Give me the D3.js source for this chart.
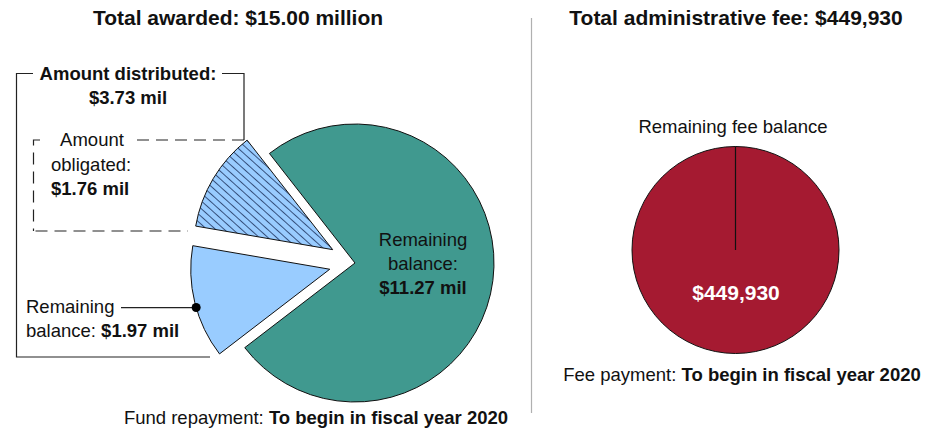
<!DOCTYPE html>
<html>
<head>
<meta charset="utf-8">
<script src="https://cdn.jsdelivr.net/npm/d3@7"></script>
<style>
  html, body { margin: 0; padding: 0; background: #fff; }
  svg text { font-family: "Liberation Sans", Arial, sans-serif; fill: #111; }
</style>
</head>
<body>
<svg id="chart" width="940" height="431"></svg>
<script>
// Awarded fund breakdown (millions of dollars)
const fundCategories = ["Remaining balance", "Distributed: remaining balance", "Distributed: amount obligated"];
const fundValues = [11.27, 1.97, 1.76];
const fundLabels = ["$11.27 mil", "$1.97 mil", "$1.76 mil"];
const distributedLabel = "$3.73 mil";
const fundTitle = "Total awarded: $15.00 million";

// Administrative fee breakdown (dollars)
const feeCategories = ["Remaining fee balance"];
const feeValues = [449930];
const feeLabels = ["$449,930"];
const feeTitle = "Total administrative fee: $449,930";

const svg = d3.select("#chart");
const deg = Math.PI / 180;
const bodySize = 18.5;

// Hatch pattern for the obligated slice
const defs = svg.append("defs");
const hs = 5.8;
const pat = defs.append("pattern")
  .attr("id", "hatch")
  .attr("patternUnits", "userSpaceOnUse")
  .attr("width", hs).attr("height", hs)
  .attr("patternTransform", "rotate(-48)");
pat.append("rect").attr("width", hs).attr("height", hs).attr("fill", "#99ccff");
pat.append("line").attr("x1", 0.5).attr("y1", 0).attr("x2", 0.5).attr("y2", hs)
  .attr("stroke", "#1c2f5a").attr("stroke-width", 0.8);

// ---- Left: exploded fund pie ----
const fundCx = 355, fundCy = 263, fundR = 139;
const fundPie = d3.pie().sort(null).value(d => d)
  .startAngle(-38 * deg).endAngle(322 * deg);
const fundArcs = fundPie(fundValues);
const fundArc = d3.arc().innerRadius(0).outerRadius(fundR);
const explode = [0, 26, 26];
const fills = ["#40998f", "#99ccff", "url(#hatch)"];

const fundG = svg.append("g").attr("transform", `translate(${fundCx},${fundCy})`);
fundG.selectAll("path").data(fundArcs).join("path")
  .attr("d", fundArc)
  .attr("fill", (d, i) => fills[i])
  .attr("stroke", "#111").attr("stroke-width", 1)
  .attr("transform", (d, i) => {
    const a = (d.startAngle + d.endAngle) / 2;
    return `translate(${explode[i] * Math.sin(a)},${-explode[i] * Math.cos(a)})`;
  });

// Titles
svg.append("text").attr("x", 238).attr("y", 25).attr("text-anchor", "middle")
  .attr("font-size", 21).attr("font-weight", "bold").text(fundTitle);
svg.append("text").attr("x", 736).attr("y", 25).attr("text-anchor", "middle")
  .attr("font-size", 21).attr("font-weight", "bold").text(feeTitle);

// Divider
svg.append("line").attr("x1", 531.5).attr("x2", 531.5).attr("y1", 18).attr("y2", 413)
  .attr("stroke", "#b0b0b0").attr("stroke-width", 1.2);

// Remaining balance label inside the teal slice
const tl = svg.append("text").attr("text-anchor", "middle").attr("font-size", bodySize);
tl.append("tspan").attr("x", 423).attr("y", 246).text("Remaining");
tl.append("tspan").attr("x", 423).attr("y", 270).text("balance:");
tl.append("tspan").attr("x", 423).attr("y", 294).attr("font-weight", "bold").text(fundLabels[0]);

// Solid bracket around the distributed slices
const ink = "#222";
svg.append("path")
  .attr("d", "M33,73.5 H16.5 V357 H210 M222,73.5 H244 V140")
  .attr("fill", "none").attr("stroke", ink).attr("stroke-width", 1.2);
svg.append("text").attr("x", 128).attr("y", 80).attr("text-anchor", "middle")
  .attr("font-size", bodySize).attr("font-weight", "bold").text("Amount distributed:");
svg.append("text").attr("x", 128).attr("y", 104).attr("text-anchor", "middle")
  .attr("font-size", bodySize).attr("font-weight", "bold").text(distributedLabel);

// Dashed bracket around the obligated slice
svg.append("path").attr("d", "M40,140 H33.5 V231")
  .attr("fill", "none").attr("stroke", ink).attr("stroke-width", 1.2)
  .attr("stroke-dasharray", "12,7");
svg.append("path").attr("d", "M33.5,231 H188")
  .attr("fill", "none").attr("stroke", ink).attr("stroke-width", 1.2)
  .attr("stroke-dasharray", "12,7").attr("stroke-dashoffset", -2);
svg.append("path").attr("d", "M244,140 H135")
  .attr("fill", "none").attr("stroke", ink).attr("stroke-width", 1.2)
  .attr("stroke-dasharray", "12,7");
svg.append("text").attr("x", 92).attr("y", 146).attr("text-anchor", "middle")
  .attr("font-size", bodySize).text("Amount");
svg.append("text").attr("x", 51).attr("y", 171).attr("font-size", bodySize).text("obligated:");
svg.append("text").attr("x", 51).attr("y", 195).attr("font-size", bodySize)
  .attr("font-weight", "bold").text(fundLabels[2]);

// Leader to the distributed remaining balance slice
const blue = fundArcs[1];
const blueMid = (blue.startAngle + blue.endAngle) / 2;
const bx = fundCx + explode[1] * Math.sin(blueMid);
const by = fundCy - explode[1] * Math.cos(blueMid);
const dotA = 254 * deg;
const dotX = bx + fundR * Math.sin(dotA), dotY = by - fundR * Math.cos(dotA);
svg.append("line").attr("x1", 121).attr("y1", dotY).attr("x2", dotX).attr("y2", dotY)
  .attr("stroke", ink).attr("stroke-width", 1.2);
svg.append("circle").attr("cx", dotX).attr("cy", dotY).attr("r", 4.5).attr("fill", "#000");
svg.append("text").attr("x", 26).attr("y", 313).attr("font-size", bodySize).text("Remaining");
const bl = svg.append("text").attr("x", 26).attr("y", 337).attr("font-size", bodySize);
bl.append("tspan").text("balance: ");
bl.append("tspan").attr("font-weight", "bold").text(fundLabels[1]);

// Footnote
const fn = svg.append("text").attr("x", 316).attr("y", 424).attr("text-anchor", "middle").attr("font-size", bodySize);
fn.append("tspan").text("Fund repayment: ");
fn.append("tspan").attr("font-weight", "bold").text("To begin in fiscal year 2020");

// ---- Right: administrative fee pie ----
const feeCx = 735.5, feeCy = 250, feeR = 103.5;
const feePie = d3.pie().sort(null).value(d => d);
const feeArc = d3.arc().innerRadius(0).outerRadius(feeR);
const feeG = svg.append("g").attr("transform", `translate(${feeCx},${feeCy})`);
const feeArcs = feePie(feeValues);
feeG.selectAll("path").data(feeArcs).join("path")
  .attr("d", feeArc)
  .attr("fill", "#a51a31").attr("stroke", "#111").attr("stroke-width", 1);
// slice boundary at the start angle
feeG.selectAll("line.edge").data(feeArcs).join("line").attr("class", "edge")
  .attr("x1", 0).attr("y1", 0)
  .attr("x2", d => feeR * Math.sin(d.startAngle))
  .attr("y2", d => -feeR * Math.cos(d.startAngle))
  .attr("stroke", "#111").attr("stroke-width", 1.2);

svg.append("text").attr("x", 733).attr("y", 133).attr("text-anchor", "middle")
  .attr("font-size", bodySize).text(feeCategories[0]);
svg.append("text").attr("x", 736).attr("y", 300).attr("text-anchor", "middle")
  .attr("font-size", 21).attr("font-weight", "bold").style("fill", "#fff").text(feeLabels[0]);

const ff = svg.append("text").attr("x", 742).attr("y", 381).attr("text-anchor", "middle").attr("font-size", bodySize);
ff.append("tspan").text("Fee payment: ");
ff.append("tspan").attr("font-weight", "bold").text("To begin in fiscal year 2020");
</script>
</body>
</html>
